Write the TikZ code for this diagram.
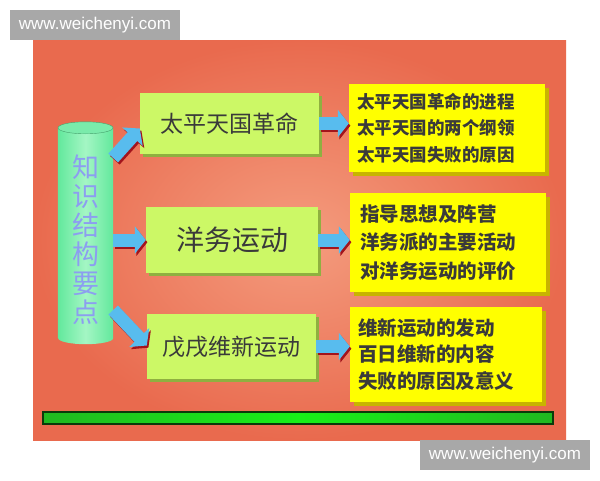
\documentclass[tikz,border=0pt]{standalone}
\usepackage{fontspec}
\newfontfamily\cjk{Noto Sans CJK SC}
\newfontfamily\wm{Liberation Sans}
\usetikzlibrary{arrows.meta,shadows}
\definecolor{panelouter}{HTML}{E96A4E}
\definecolor{panelinner}{HTML}{F49C7E}
\definecolor{wmgray}{HTML}{A8A8A8}
\definecolor{gboxfill}{HTML}{CCF866}
\definecolor{gboxshade}{HTML}{8FB040}
\definecolor{yboxfill}{HTML}{FFFF00}
\definecolor{yboxshade}{HTML}{C8B400}
\definecolor{arrowblue}{HTML}{58BCEE}
\definecolor{arrowshadow}{HTML}{A3141C}
\definecolor{cylbody}{HTML}{62E89C}
\definecolor{cyllight}{HTML}{A4F6C4}
\definecolor{cyltext}{HTML}{8C9EF0}
\definecolor{textdark}{HTML}{3A3A3A}
\definecolor{bargreen}{HTML}{18F018}
\definecolor{barmid}{HTML}{20B820}
\definecolor{bardark}{HTML}{0A3A0A}
\tikzset{
  watermark/.style={fill=wmgray, text=white, font=\wm\fontsize{17}{17}\selectfont,
    minimum height=30pt, inner sep=0pt},
  topicbox/.style={fill=gboxfill, text=textdark, inner sep=0pt,
    general shadow={fill=gboxshade, shadow xshift=2.5pt, shadow yshift=-2.5pt}},
  detailbox/.style={fill=yboxfill, text=textdark, inner sep=0pt, align=left,
    general shadow={fill=yboxshade, shadow xshift=3.5pt, shadow yshift=-3.5pt}},
  blockarrow/.style={draw=arrowblue, line width=13pt, line cap=butt,
    -{Triangle[width=27pt,length=11pt]}},
  blockshadow/.style={draw=arrowshadow, line width=13pt, line cap=butt,
    -{Triangle[width=27pt,length=11pt]},
    transform canvas={shift={(1.6pt,-2.2pt)}}},
}
\begin{document}
\begin{tikzpicture}[x=1pt,y=-1pt]
% canvas
\fill[white] (0,0) rectangle (600,480);
\useasboundingbox (0,0) rectangle (600,480);
% panel
\shade[inner color=panelinner, outer color=panelouter] (33,40) rectangle (566,440);
% watermarks
\node[watermark, minimum width=170pt] (wm1) at (95,25) {www.weichenyi.com};
\node[watermark, minimum width=170pt] (wm2) at (505,455) {www.weichenyi.com};
% green bar
\shade[left color=barmid, right color=barmid, middle color=bargreen] (43,412) rectangle (553,424);
\draw[bardark, line width=1.2pt] (43,412) rectangle (553,424);
% cylinder
\node[minimum width=55pt, minimum height=210pt, inner sep=0pt] (cyl) at (85.5,233) {};
\shade[left color=cylbody, right color=cylbody, middle color=cyllight]
  (cyl.south west) -- (cyl.north west) -- (cyl.north east) -- (cyl.south east)
  arc[start angle=0, end angle=-180, x radius=27.5pt, y radius=6pt] -- cycle;
\fill[cylbody!85!white] (cyl.north) ellipse[x radius=27.5pt, y radius=6pt];
\draw[cylbody!70!black, line width=0.4pt] (cyl.north) ellipse[x radius=27.5pt, y radius=6pt];
\node[text=cyltext, font=\cjk\fontsize{27}{29}\selectfont, align=center] (cyltxt) at (86,240)
  {知\\识\\结\\构\\要\\点};
% topic boxes
\node[topicbox, minimum width=179pt, minimum height=61pt, font=\cjk\fontsize{23}{23}\selectfont]
  (g1) at (229.5,123.5) {太平天国革命};
\node[topicbox, minimum width=172pt, minimum height=66pt, font=\cjk\fontsize{28}{28}\selectfont]
  (g2) at (232,240) {洋务运动};
\node[topicbox, minimum width=169pt, minimum height=65pt, font=\cjk\fontsize{23}{23}\selectfont]
  (g3) at (231.5,346.5) {戊戌维新运动};
% detail boxes
\node[detailbox, minimum width=196pt, minimum height=88pt, text width=180pt,
  font=\cjk\bfseries\fontsize{17.5}{26.5}\selectfont] (y1) at (447,128)
  {太平天国革命的进程\\太平天国的两个纲领\\太平天国失败的原因};
\node[detailbox, minimum width=196pt, minimum height=99pt, text width=176pt,
  font=\cjk\bfseries\fontsize{19.5}{28.5}\selectfont] (y2) at (448,242.5)
  {指导思想及阵营\\洋务派的主要活动\\对洋务运动的评价};
\node[detailbox, minimum width=192pt, minimum height=95pt, text width=176pt,
  font=\cjk\bfseries\fontsize{19.5}{26.5}\selectfont] (y3) at (446,354.5)
  {维新运动的发动\\百日维新的内容\\失败的原因及意义};
% arrow shadows
\draw[blockshadow] ([yshift=75pt]cyl.east) -- ([yshift=-5pt]g1.west);
\draw[blockshadow] ([yshift=-7pt]cyl.east) -- (g2.west);
\draw[blockshadow] ([yshift=-77pt]cyl.east) -- ([yshift=1pt]g3.west);
\draw[blockshadow] (g1.east) -- (g1.east -| y1.west);
\draw[blockshadow] (g2.east) -- (g2.east -| y2.west);
\draw[blockshadow] (g3.east) -- (g3.east -| y3.west);
% arrows
\draw[blockarrow] ([yshift=75pt]cyl.east) -- ([yshift=-5pt]g1.west);
\draw[blockarrow] ([yshift=-7pt]cyl.east) -- (g2.west);
\draw[blockarrow] ([yshift=-77pt]cyl.east) -- ([yshift=1pt]g3.west);
\draw[blockarrow] (g1.east) -- (g1.east -| y1.west);
\draw[blockarrow] (g2.east) -- (g2.east -| y2.west);
\draw[blockarrow] (g3.east) -- (g3.east -| y3.west);
\end{tikzpicture}
\end{document}
